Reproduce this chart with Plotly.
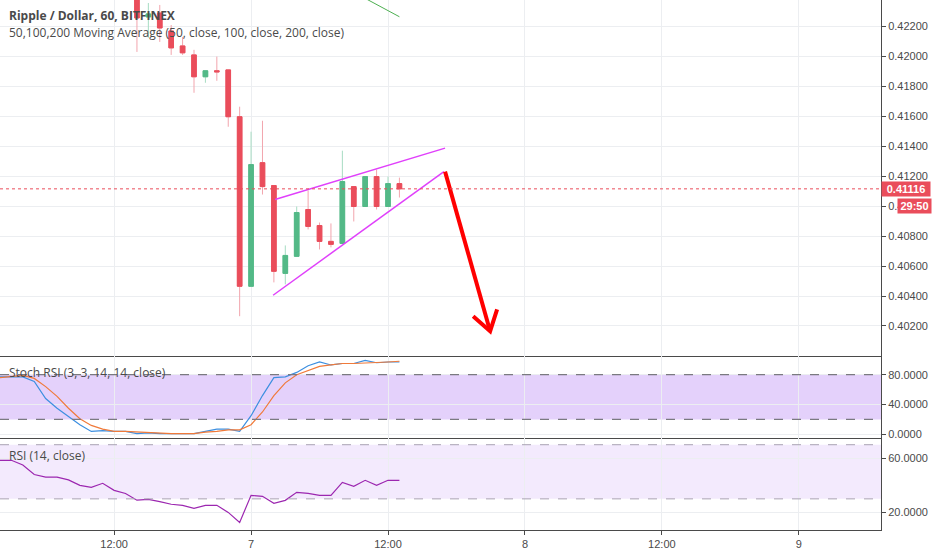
import plotly.graph_objects as go
from plotly.subplots import make_subplots

# hourly candles, hours relative to day 7 00:00
hours = list(range(-10, 14))
opens = [0.42411, 0.42265, 0.42291, 0.42171, 0.42071, 0.42011, 0.41865, 0.41905,
         0.41911, 0.41598, 0.40465, 0.41291, 0.41138, 0.40551, 0.40665, 0.40978,
         0.40871, 0.40765, 0.40751, 0.41131, 0.40998, 0.41198, 0.40998, 0.41151]
highs = [0.42458, 0.42358, 0.42345, 0.42211, 0.42131, 0.42045, 0.41905, 0.42000,
         0.41911, 0.41665, 0.41498, 0.41571, 0.41138, 0.40738, 0.40998, 0.41105,
         0.40891, 0.40885, 0.41371, 0.41131, 0.41198, 0.41245, 0.41198, 0.41191]
lows = [0.42031, 0.42125, 0.42098, 0.42011, 0.42011, 0.41758, 0.41825, 0.41838,
        0.41531, 0.40265, 0.40465, 0.41078, 0.40491, 0.40478, 0.40665, 0.40845,
        0.40711, 0.40725, 0.40751, 0.40898, 0.40998, 0.40978, 0.40998, 0.41058]
closes = [0.42258, 0.42285, 0.42191, 0.42058, 0.42025, 0.41865, 0.41905, 0.41898,
          0.41598, 0.40465, 0.41278, 0.41131, 0.40565, 0.40671, 0.40958, 0.40865,
          0.40765, 0.40745, 0.41165, 0.40998, 0.41198, 0.40998, 0.41151, 0.41116]
last_price = 0.41116

ma_hours = [9, 10, 11, 12, 13]
ma_values = [0.42430, 0.42388, 0.42348, 0.42306, 0.42266]

ind_hours = list(range(-22, 14))
stoch_k = [77, 77, 77, 71, 48, 35, 24, 13, 4, 5, 4, 4, 1, 2, 1, 1, 1, 1,
           4, 7, 7, 4, 25, 52, 76, 77, 83, 92, 97, 93, 95, 95, 99, 96, 97, 97]
stoch_d = [76, 78, 79, 75, 64, 51, 35, 21, 12, 7, 4, 4, 3, 3, 2, 1, 1, 1,
           3, 4, 6, 6, 13, 30, 52, 69, 80, 85, 91, 93, 95, 95, 96, 96, 97, 98]
rsi = [58.5, 58.5, 55, 48, 46, 46, 44, 40, 38.5, 41.5, 36.3, 34, 29, 29.6, 28,
       26, 25.2, 23, 25.2, 25.2, 20, 12.6, 32.6, 31.9, 26.7, 28.9, 34.8, 34.1,
       32.6, 32.6, 42.2, 39.3, 43.7, 40, 43.7, 43.7]

# drawings on the chart (hour, price)
wedge_upper = [(2.1, 0.41045), (17.0, 0.41388)]
wedge_lower = [(1.93, 0.40405), (16.9, 0.41231)]
arrow_shaft = [(17.0, 0.41231), (20.95, 0.40165)]
arrow_head = [(19.46, 0.40265), (20.95, 0.40165), (21.56, 0.40311)]

tick_hours = [-12, 0, 12, 24, 36, 48]
tick_text = ["12:00", "7", "12:00", "8", "12:00", "9"]
price_ticks = [0.402, 0.404, 0.406, 0.408, 0.410, 0.412, 0.414, 0.416, 0.418, 0.420, 0.422]
stoch_ticks = [0, 40, 80]
rsi_ticks = [20, 60]

RED = "#ea4d5b"
GREEN = "#53b987"
TXT = "#4a4a4a"
GRID = "#eceef1"

PLOT_H = 532

fig = make_subplots(rows=3, cols=1, shared_xaxes=True, vertical_spacing=0,
                    row_heights=[357.5, 82.5, 92])

# wicks (light) + bodies (solid)
fig.add_trace(go.Candlestick(
    x=hours, open=opens, high=highs, low=lows, close=closes,
    increasing=dict(line=dict(color="#a6dcc2", width=1), fillcolor=GREEN),
    decreasing=dict(line=dict(color="#f2a5ad", width=1), fillcolor=RED),
    showlegend=False, hoverinfo="skip"), row=1, col=1)
fig.add_trace(go.Candlestick(
    x=hours, open=opens, close=closes,
    high=[max(o, c) for o, c in zip(opens, closes)],
    low=[min(o, c) for o, c in zip(opens, closes)],
    increasing=dict(line=dict(color=GREEN, width=1), fillcolor=GREEN),
    decreasing=dict(line=dict(color=RED, width=1), fillcolor=RED),
    showlegend=False, hoverinfo="skip"), row=1, col=1)

fig.add_trace(go.Scatter(x=ma_hours, y=ma_values, mode="lines",
                         line=dict(color="#4caf50", width=1), showlegend=False),
              row=1, col=1)

for seg in (wedge_upper, wedge_lower):
    fig.add_trace(go.Scatter(x=[p[0] for p in seg], y=[p[1] for p in seg], mode="lines",
                             line=dict(color="#e040fb", width=1.5), showlegend=False),
                  row=1, col=1)
for seg in (arrow_shaft, arrow_head):
    fig.add_trace(go.Scatter(x=[p[0] for p in seg], y=[p[1] for p in seg], mode="lines",
                             line=dict(color="#ff0000", width=4), showlegend=False),
                  row=1, col=1)

# stoch rsi
fig.add_trace(go.Scatter(x=ind_hours, y=stoch_k, mode="lines",
                         line=dict(color="#3d8fe0", width=1.2), showlegend=False), row=2, col=1)
fig.add_trace(go.Scatter(x=ind_hours, y=stoch_d, mode="lines",
                         line=dict(color="#f07a3a", width=1.2), showlegend=False), row=2, col=1)
fig.add_hrect(y0=20, y1=80, fillcolor="#e4d1fb", opacity=1, line_width=0, layer="below",
              row=2, col=1, exclude_empty_subplots=False)
for lv in (80, 20):
    fig.add_hline(y=lv, line=dict(color="#7a7a80", width=1.3, dash="dash"),
                  row=2, col=1, exclude_empty_subplots=False)

# rsi
fig.add_trace(go.Scatter(x=ind_hours, y=rsi, mode="lines",
                         line=dict(color="#9c27b0", width=1.2), showlegend=False), row=3, col=1)
fig.add_hrect(y0=30, y1=70, fillcolor="#f3eafd", opacity=1, line_width=0, layer="below",
              row=3, col=1, exclude_empty_subplots=False)
for lv in (70, 30):
    fig.add_hline(y=lv, line=dict(color="#a9a3b3", width=1, dash="dash"),
                  row=3, col=1, exclude_empty_subplots=False)

# last price line
fig.add_hline(y=last_price, line=dict(color=RED, width=1, dash="dot"), row=1, col=1)

axis_font = dict(family="Liberation Sans, Arial", size=11, color=TXT)
for r in (1, 2, 3):
    fig.update_xaxes(range=[-22, 55.2], tickvals=tick_hours, ticktext=tick_text,
                     showgrid=True, gridcolor=GRID, zeroline=False,
                     rangeslider_visible=False, showline=True, linecolor=TXT,
                     ticks="outside" if r == 3 else "", ticklen=4, tickcolor=TXT,
                     showticklabels=(r == 3), tickfont=axis_font, row=r, col=1)

fig.update_yaxes(side="right", range=[0.39998, 0.42378], tickvals=price_ticks,
                 tickformat=".5f", row=1, col=1)
fig.update_yaxes(side="right", range=[-5.3, 104.8], tickvals=stoch_ticks,
                 tickformat=".4f", row=2, col=1)
fig.update_yaxes(side="right", range=[7, 74.7], tickvals=rsi_ticks,
                 tickformat=".4f", row=3, col=1)
fig.update_yaxes(showgrid=True, gridcolor=GRID, zeroline=False, showline=True,
                 linecolor=TXT, ticks="outside", ticklen=4, tickcolor=TXT,
                 tickfont=axis_font)

title_font = dict(family="Open Sans, Noto Sans", size=12, color=TXT)
annots = [
    dict(text="<b>Ripple / Dollar, 60, BITFINEX</b>", y=16),
    dict(text="50,100,200 Moving Average (50, close, 100, close, 200, close)", y=33),
    dict(text="Stoch RSI (3, 3, 14, 14, close)", y=374),
    dict(text="RSI (14, close)", y=457),
]
for a in annots:
    fig.add_annotation(text=a["text"], xref="paper", yref="paper", x=0, xshift=7,
                       y=1 - a["y"] / PLOT_H, xanchor="left", yanchor="middle",
                       showarrow=False, font=title_font)

fig.add_annotation(text="<b>0.41116</b>", xref="paper", yref="y", x=1, y=last_price,
                   xanchor="left", yanchor="middle", showarrow=False, bgcolor=RED,
                   font=dict(family="Liberation Sans, Arial", size=11, color="white"),
                   width=46, height=12, borderpad=1)
fig.add_annotation(text="<b>29:50</b>", xref="paper", yref="y", x=1, xshift=16, y=0.41,
                   xanchor="left", yanchor="middle", showarrow=False, bgcolor=RED,
                   font=dict(family="Liberation Sans, Arial", size=11, color="white"),
                   width=31, height=12, borderpad=1)

fig.update_layout(width=932, height=550, margin=dict(l=0, r=51, t=0, b=18),
                  plot_bgcolor="white", paper_bgcolor="white", showlegend=False,
                  boxgap=0.42)

# drop the default page margin so the figure fills the window
fig.write_html("out.html", config={"displayModeBar": False},
               post_script="document.body.style.margin = '0';")
